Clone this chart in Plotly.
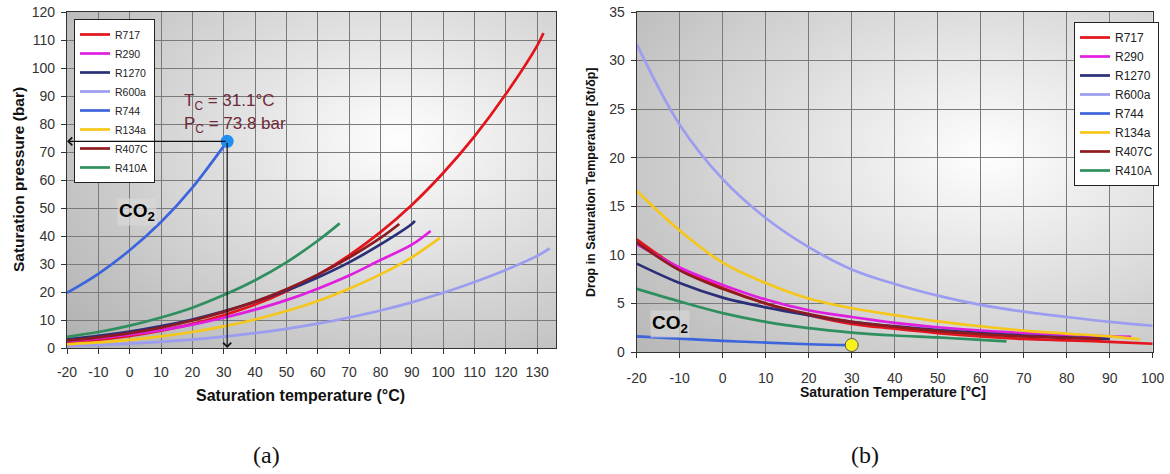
import base64, struct, zlib
import numpy as np
import plotly.graph_objects as go

# ---------------- data (a): saturation pressure [bar] ----------------
names = ["R717", "R290", "R1270", "R600a", "R744", "R134a", "R407C", "R410A"]
colors = ["#e3141b", "#e01ee0", "#2b2f78", "#9c9cf0", "#3c64dc", "#f5c71a", "#8e1b22", "#2f8f5f"]

ta_R717 = [-20, -10, 0, 10, 20, 30, 40, 50, 60, 70, 80, 90, 100, 110, 120, 130, 132]
pa_R717 = [1.9, 2.9, 4.3, 6.2, 8.6, 11.7, 15.5, 20.3, 26.1, 33.1, 41.4, 51.1, 62.5, 75.6, 90.7, 108.0, 112.5]
ta_R290 = [-20, -10, 0, 10, 20, 30, 40, 50, 60, 70, 80, 90, 96]
pa_R290 = [2.45, 3.45, 4.74, 6.36, 8.36, 10.8, 13.7, 17.1, 21.2, 25.9, 31.4, 36.9, 41.8]
ta_R1270 = [-20, -10, 0, 10, 20, 30, 40, 50, 60, 70, 80, 90, 91]
pa_R1270 = [3.06, 4.3, 5.85, 7.8, 10.2, 13.1, 16.5, 20.5, 25.2, 30.6, 37.0, 44.3, 45.4]
ta_R600a = [-20, -10, 0, 10, 20, 30, 40, 50, 60, 70, 80, 90, 100, 110, 120, 130, 134]
pa_R600a = [0.72, 1.08, 1.57, 2.21, 3.02, 4.04, 5.31, 6.85, 8.69, 10.9, 13.4, 16.3, 19.7, 23.6, 27.9, 32.9, 35.6]
ta_R744 = [-20, -10, 0, 10, 20, 30, 31.1]
pa_R744 = [19.7, 26.5, 34.9, 45.0, 57.3, 72.1, 73.8]
ta_R134a = [-20, -10, 0, 10, 20, 30, 40, 50, 60, 70, 80, 90, 99]
pa_R134a = [1.33, 2.01, 2.93, 4.15, 5.72, 7.70, 10.17, 13.2, 16.8, 21.2, 26.3, 32.4, 39.3]
ta_R407C = [-20, -10, 0, 10, 20, 30, 40, 50, 60, 70, 80, 86]
pa_R407C = [2.6, 3.8, 5.3, 7.3, 9.8, 12.9, 16.6, 21.0, 26.2, 32.3, 39.3, 44.3]
ta_R410A = [-20, -10, 0, 10, 20, 30, 40, 50, 60, 67]
pa_R410A = [4.0, 5.7, 8.0, 10.9, 14.4, 18.9, 24.2, 30.6, 38.3, 44.5]

# ---------------- data (b): drop in saturation temperature [K/bar] ----------------
tb_R717 = [-20, -10, 0, 10, 20, 30, 40, 50, 60, 70, 80, 90, 100]
db_R717 = [11.6, 8.6, 6.6, 5.0, 3.8, 2.9, 2.4, 1.95, 1.6, 1.35, 1.2, 1.05, 0.85]
tb_R290 = [-20, -10, 0, 10, 20, 30, 40, 50, 60, 70, 80, 90, 95]
db_R290 = [11.1, 8.7, 6.9, 5.4, 4.3, 3.6, 3.0, 2.55, 2.2, 1.95, 1.75, 1.6, 1.55]
tb_R1270 = [-20, -10, 0, 10, 20, 30, 40, 50, 60, 70, 80, 90]
db_R1270 = [9.1, 7.1, 5.6, 4.6, 3.8, 3.1, 2.65, 2.25, 1.95, 1.7, 1.5, 1.35]
tb_R600a = [-20, -10, 0, 10, 20, 30, 40, 50, 60, 70, 80, 90, 100]
db_R600a = [31.7, 23.4, 17.8, 13.8, 10.8, 8.5, 7.0, 5.8, 4.85, 4.15, 3.6, 3.1, 2.7]
tb_R744 = [-20, -10, 0, 10, 20, 30]
db_R744 = [1.6, 1.38, 1.15, 0.97, 0.8, 0.7]
tb_R134a = [-20, -10, 0, 10, 20, 30, 40, 50, 60, 70, 80, 90, 97]
db_R134a = [16.6, 12.5, 9.2, 7.1, 5.5, 4.5, 3.8, 3.15, 2.65, 2.2, 1.9, 1.6, 1.3]
tb_R407C = [-20, -10, 0, 10, 20, 30, 40, 50, 60, 70, 80, 88]
db_R407C = [11.3, 8.4, 6.5, 5.0, 3.9, 3.1, 2.6, 2.15, 1.85, 1.6, 1.45, 1.35]
tb_R410A = [-20, -10, 0, 10, 20, 30, 40, 50, 60, 66]
db_R410A = [6.5, 5.2, 4.0, 3.1, 2.45, 2.0, 1.7, 1.5, 1.25, 1.1]

crit_T, crit_P = 31.1, 73.8
co2_marker_T, co2_marker_d = 30, 0.72

# tick labels (hyphen minus, as in the reference)
xa_ticks = list(range(-20, 131, 10))
xa_labels = [str(v) for v in xa_ticks]
xb_ticks = list(range(-20, 101, 10))
xb_labels = [str(v) for v in xb_ticks]

series_a = [(ta_R717, pa_R717), (ta_R290, pa_R290), (ta_R1270, pa_R1270), (ta_R600a, pa_R600a),
            (ta_R744, pa_R744), (ta_R134a, pa_R134a), (ta_R407C, pa_R407C), (ta_R410A, pa_R410A)]
series_b = [(tb_R717, db_R717), (tb_R290, db_R290), (tb_R1270, db_R1270), (tb_R600a, db_R600a),
            (tb_R744, db_R744), (tb_R134a, db_R134a), (tb_R407C, db_R407C), (tb_R410A, db_R410A)]


# ---------------- gradient background image ----------------
def png_data_uri(arr):
    h, w, _ = arr.shape
    raw = b"".join(b"\x00" + arr[i].astype(np.uint8).tobytes() for i in range(h))

    def chunk(tag, data):
        c = struct.pack(">I", len(data)) + tag + data
        return c + struct.pack(">I", zlib.crc32(tag + data) & 0xFFFFFFFF)

    png = b"\x89PNG\r\n\x1a\n" + chunk(b"IHDR", struct.pack(">IIBBBBB", w, h, 8, 2, 0, 0, 0))
    png += chunk(b"IDAT", zlib.compress(raw, 9)) + chunk(b"IEND", b"")
    return "data:image/png;base64," + base64.b64encode(png).decode()


def gradient(cx, cy, k, base=255):
    w, h = 200, 200
    xs = np.linspace(0, 1, w)[None, :]
    ys = np.linspace(0, 1, h)[:, None]
    d = np.sqrt((xs - cx) ** 2 + (ys - cy) ** 2)
    v = np.clip(base - k * d, 150, 255)
    return np.repeat(v[:, :, None], 3, axis=2)


img_a = png_data_uri(gradient(0.68, 0.38, 85))
img_b = png_data_uri(gradient(0.68, 0.42, 80))

# ---------------- figure ----------------
fig = go.Figure()
for name, col, (t, p) in zip(names, colors, series_a):
    fig.add_trace(go.Scatter(x=t, y=p, mode="lines", name=name, line=dict(color=col, width=2.7, shape="spline"),
                             xaxis="x", yaxis="y", legend="legend"))
for name, col, (t, d) in zip(names, colors, series_b):
    fig.add_trace(go.Scatter(x=t, y=d, mode="lines", name=name, line=dict(color=col, width=2.7, shape="spline"),
                             xaxis="x2", yaxis="y2", legend="legend2"))

fig.add_trace(go.Scatter(x=[crit_T], y=[crit_P], mode="markers", showlegend=False,
                         marker=dict(color="#1f8ef0", size=13), xaxis="x", yaxis="y"))
fig.add_trace(go.Scatter(x=[co2_marker_T], y=[co2_marker_d], mode="markers", showlegend=False,
                         marker=dict(color="#f7f21c", size=13, line=dict(color="#555", width=1)),
                         xaxis="x2", yaxis="y2"))

tickfont = dict(family="Liberation Sans, Arial", size=14, color="#333")
axis_common = dict(showgrid=True, gridcolor="#7a7a7a", gridwidth=1, zeroline=False,
                   showline=True, linecolor="#333", linewidth=1.2, mirror=True, automargin=False,
                   ticks="outside", ticklen=5, tickcolor="#333", tickfont=tickfont)

fig.update_layout(
    width=1170, height=474, margin=dict(l=0, r=0, t=0, b=0, autoexpand=False),
    paper_bgcolor="white", plot_bgcolor="rgba(0,0,0,0)",
    xaxis=dict(domain=[67 / 1170, 556 / 1170], range=[-20, 136], tickvals=xa_ticks, ticktext=xa_labels,
               ticklabelstandoff=6, **axis_common),
    yaxis=dict(domain=[1 - 348 / 474, 1 - 12 / 474], range=[0, 120], dtick=10, ticklabelstandoff=3, **axis_common),
    xaxis2=dict(domain=[636.7 / 1170, 1152.7 / 1170], range=[-20, 100], tickvals=xb_ticks, ticktext=xb_labels,
                anchor="y2", ticklabelstandoff=8, **axis_common),
    yaxis2=dict(domain=[1 - 352 / 474, 1 - 12 / 474], range=[0, 35], dtick=5, anchor="x2",
                ticklabelstandoff=3, **axis_common),
    legend=dict(x=74 / 1170, y=1 - 19 / 474, xanchor="left", yanchor="top", bgcolor="white",
                bordercolor="#222", borderwidth=1, font=dict(family="Liberation Sans, Arial", size=10.5, color="#222"),
                itemwidth=30, tracegroupgap=0),
    legend2=dict(x=1074 / 1170, y=1 - 22 / 474, xanchor="left", yanchor="top", bgcolor="white",
                 bordercolor="#222", borderwidth=1, font=dict(family="Liberation Sans, Arial", size=12, color="#222"),
                 itemwidth=30, tracegroupgap=0),
    images=[
        dict(source=img_a, xref="x domain", yref="y domain", x=0, y=1, sizex=1, sizey=1,
             sizing="stretch", layer="below", xanchor="left", yanchor="top"),
        dict(source=img_b, xref="x2 domain", yref="y2 domain", x=0, y=1, sizex=1, sizey=1,
             sizing="stretch", layer="below", xanchor="left", yanchor="top"),
    ],
)

ann = [
    # axis titles
    dict(text="<b>Saturation pressure (bar)</b>", x=18 / 1170, y=1 - 180 / 474, textangle=-90,
         font=dict(family="Liberation Sans, Arial", size=15.5, color="#111")),
    dict(text="<b>Saturation temperature (°C)</b>", x=300 / 1170, y=1 - 395 / 474,
         font=dict(family="Liberation Sans, Arial", size=16, color="#111")),
    dict(text="<b>Drop in Saturation Temperature [δt/δp]</b>", x=591 / 1170, y=1 - 182 / 474, textangle=-90,
         font=dict(family="Liberation Sans, Arial", size=12.5, color="#111")),
    dict(text="<b>Saturation Temperature [°C]</b>", x=893 / 1170, y=1 - 392 / 474,
         font=dict(family="Liberation Sans, Arial", size=14, color="#111")),
    # captions
    dict(text="(a)", x=266 / 1170, y=1 - 455 / 474, font=dict(family="Liberation Serif, Times New Roman", size=24, color="#111")),
    dict(text="(b)", x=865 / 1170, y=1 - 455 / 474, font=dict(family="Liberation Serif, Times New Roman", size=24, color="#111")),
    # CO2 labels
    dict(text="<b>CO<sub>2</sub></b>", x=137 / 1170, y=1 - 212 / 474, bgcolor="rgba(215,215,215,0.75)", borderpad=1,
         font=dict(family="Liberation Sans, Arial", size=19, color="black")),
    dict(text="<b>CO<sub>2</sub></b>", x=670 / 1170, y=1 - 324 / 474, bgcolor="rgba(212,212,212,0.75)", borderpad=1,
         font=dict(family="Liberation Sans, Arial", size=19, color="black")),
]
for a in ann:
    a.setdefault("xanchor", "center")
    a.setdefault("yanchor", "middle")
for a in [
    # critical point text
    dict(text="T<sub>C</sub> = 31.1°C", x=182 / 1170, y=1 - 102 / 474, xanchor="left", yanchor="middle",
         font=dict(family="Liberation Sans, Arial", size=17, color="#6e2a3a")),
    dict(text="P<sub>C</sub> = 73.8 bar", x=182 / 1170, y=1 - 125 / 474, xanchor="left", yanchor="middle",
         font=dict(family="Liberation Sans, Arial", size=17, color="#6e2a3a")),
]:
    ann.append(a)
for a in ann:
    a.setdefault("xref", "paper")
    a.setdefault("yref", "paper")
    a.setdefault("showarrow", False)
    fig.add_annotation(**a)

# critical point arrows
fig.add_annotation(x=-20, y=crit_P, ax=crit_T, ay=crit_P, xref="x", yref="y", axref="x", ayref="y",
                   showarrow=True, arrowhead=4, arrowsize=1.3, arrowwidth=1.2, arrowcolor="#111", text="")
fig.add_annotation(x=crit_T, y=0, ax=crit_T, ay=crit_P, xref="x", yref="y", axref="x", ayref="y",
                   showarrow=True, arrowhead=4, arrowsize=1.3, arrowwidth=1.2, arrowcolor="#111", text="")

fig.write_html("out.html")
